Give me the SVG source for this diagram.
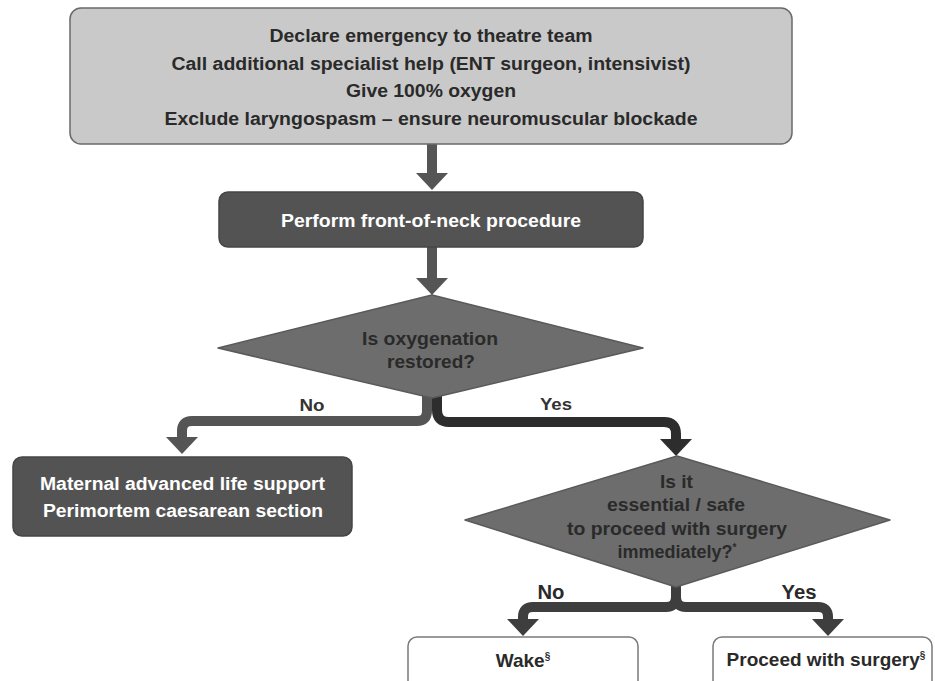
<svg xmlns="http://www.w3.org/2000/svg" width="935" height="681" viewBox="0 0 935 681">
<style>
text{font-family:"Liberation Sans",Arial,sans-serif;font-weight:bold;text-anchor:middle}
.t18{font-size:18px}
.t19{font-size:19px}
.dk{fill:#2a2a2a}
.wh{fill:#ffffff}
.lbl{fill:#333333}
.box-light{fill:#c9c9c9;stroke:#6a6a6a;stroke-width:1.5}
.box-dark{fill:#535353;stroke:#454545;stroke-width:1.5}
.box-white{fill:#ffffff;stroke:#7a7a7a;stroke-width:1.5}
.dia{fill:#6d6d6d;stroke:#5a5a5a;stroke-width:1.5;stroke-linejoin:round}
.conn{fill:none;stroke-width:10}
</style>
<defs>
<marker id="hMid" viewBox="0 0 17 32" refX="0" refY="16" markerWidth="17" markerHeight="32" markerUnits="userSpaceOnUse" orient="auto"><path d="M0,0 L17,16 L0,32 z" fill="#555555"/></marker>
<marker id="hDark" viewBox="0 0 17 32" refX="0" refY="16" markerWidth="17" markerHeight="32" markerUnits="userSpaceOnUse" orient="auto"><path d="M0,0 L17,16 L0,32 z" fill="#2d2d2d"/></marker>
<marker id="hLow" viewBox="0 0 17 32" refX="0" refY="16" markerWidth="17" markerHeight="32" markerUnits="userSpaceOnUse" orient="auto"><path d="M0,0 L17,16 L0,32 z" fill="#3e3e3e"/></marker>
</defs>
<rect width="935" height="681" fill="#ffffff"/>

<g id="connectors">
<path class="conn" stroke="#555555" d="M432,144 V173" marker-end="url(#hMid)"/>
<path class="conn" stroke="#555555" d="M432,247 V278" marker-end="url(#hMid)"/>
<path class="conn" stroke="#555555" d="M427,396 V411 Q427,421 417,421 H192 Q182,421 182,431 V437" marker-end="url(#hMid)"/>
<path class="conn" stroke="#2d2d2d" d="M437,396 V410 Q437,422 449,422 H664 Q676,422 676,434 V439" marker-end="url(#hDark)"/>
<path class="conn" stroke="#3e3e3e" d="M676,584 V597 Q676,607 666,607 H533 Q523,607 523,617 V619" marker-end="url(#hLow)"/>
<path class="conn" stroke="#3e3e3e" d="M676,584 V597 Q676,607 686,607 H818 Q828,607 828,617 V619" marker-end="url(#hLow)"/>
<text class="lbl" x="312" y="411" font-size="16" textLength="25" lengthAdjust="spacingAndGlyphs">No</text>
<text class="lbl" x="556" y="410" font-size="16" textLength="32" lengthAdjust="spacingAndGlyphs">Yes</text>
<text class="dk" x="551" y="599" font-size="20" textLength="27" lengthAdjust="spacingAndGlyphs">No</text>
<text class="dk" x="799" y="599" font-size="20" textLength="35" lengthAdjust="spacingAndGlyphs">Yes</text>
</g>

<g id="n-declare">
<rect class="box-light" x="70" y="8" width="722" height="136" rx="11"/>
<text class="t18 dk" x="431" y="42" textLength="323" lengthAdjust="spacingAndGlyphs">Declare emergency to theatre team</text>
<text class="t18 dk" x="431" y="70" textLength="519" lengthAdjust="spacingAndGlyphs">Call additional specialist help (ENT surgeon, intensivist)</text>
<text class="t18 dk" x="431" y="97" textLength="170" lengthAdjust="spacingAndGlyphs">Give 100% oxygen</text>
<text class="t18 dk" x="431" y="125" textLength="533" lengthAdjust="spacingAndGlyphs">Exclude laryngospasm – ensure neuromuscular blockade</text>
</g>

<g id="n-fon">
<rect class="box-dark" x="219" y="192" width="424" height="55" rx="9"/>
<text class="t18 wh" x="431" y="227" textLength="300" lengthAdjust="spacingAndGlyphs">Perform front-of-neck procedure</text>
</g>

<g id="n-oxy">
<polygon class="dia" points="218,348 432,295 643,348 432,398"/>
<text class="t18 dk" x="430" y="345" textLength="136" lengthAdjust="spacingAndGlyphs">Is oxygenation</text>
<text class="t18 dk" x="431" y="368" textLength="88" lengthAdjust="spacingAndGlyphs">restored?</text>
</g>

<g id="n-mals">
<rect class="box-dark" x="13" y="457" width="339" height="79" rx="9"/>
<text class="t18 wh" x="182.5" y="490" textLength="285" lengthAdjust="spacingAndGlyphs">Maternal advanced life support</text>
<text class="t18 wh" x="183" y="517" textLength="280" lengthAdjust="spacingAndGlyphs">Perimortem caesarean section</text>
</g>

<g id="n-safe">
<polygon class="dia" points="465,520 677,456 890,520 676,587"/>
<text class="t18 dk" x="676.5" y="488" textLength="33" lengthAdjust="spacingAndGlyphs">Is it</text>
<text class="t18 dk" x="676" y="511" textLength="138" lengthAdjust="spacingAndGlyphs">essential / safe</text>
<text class="t18 dk" x="677" y="535" textLength="220" lengthAdjust="spacingAndGlyphs">to proceed with surgery</text>
<text class="t18 dk" x="677" y="558">immediately?<tspan font-size="10" dy="-7">*</tspan></text>
</g>

<g id="n-wake">
<rect class="box-white" x="408" y="637" width="230" height="70" rx="9"/>
<text class="t19 dk" x="523" y="667">Wake<tspan font-size="10" dy="-7">§</tspan></text>
</g>

<g id="n-proceed">
<rect class="box-white" x="713" y="637" width="219" height="70" rx="9"/>
<text class="t19 dk" x="826" y="666">Proceed with surgery<tspan font-size="10" dy="-7">§</tspan></text>
</g>
</svg>
